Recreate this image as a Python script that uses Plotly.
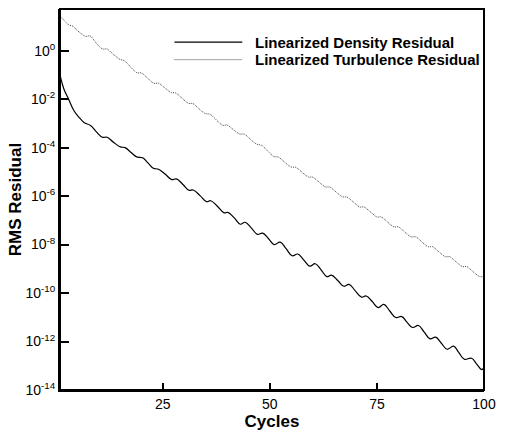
import plotly.graph_objects as go

# Linearized density residual: cycle positions and log10(RMS residual)
density_cycles = [1, 1.5, 2, 3, 4.3, 5.5, 6.6, 8.2, 9.5, 10.9, 12, 13.5, 15.1, 16.2, 17.6, 18.9,
                  20.3, 21.6, 22.8, 24, 25.6, 27.1, 28.2, 29.7, 31.1, 32.1, 33.7, 35.2, 36.2,
                  37.8, 39.3, 40.2, 41.7, 43.1, 44.2, 45.7, 47.1, 48.3, 49.7, 51.0, 52.4, 53.8,
                  55.2, 56.5, 57.9, 59.3, 60.6, 62.0, 63.3, 64.4, 65.9, 67.3, 68.5, 69.9, 71.4,
                  72.5, 73.9, 75.3, 76.6, 78.0, 79.4, 80.8, 82.0, 83.3, 84.7, 86.0, 87.4, 88.7,
                  90.0, 91.4, 92.9, 94.1, 95.4, 97.1, 98.3, 99.5, 100]
density_log10 = [-1.0, -1.35, -1.62, -2.0, -2.49, -2.76, -2.96, -3.10, -3.35, -3.57, -3.57, -3.78,
                 -3.97, -4.0, -4.2, -4.38, -4.42, -4.64, -4.85, -4.89, -5.1, -5.32, -5.29, -5.52,
                 -5.76, -5.75, -5.98, -6.23, -6.19, -6.43, -6.69, -6.67, -6.9, -7.16, -7.08,
                 -7.32, -7.58, -7.53, -7.76, -8.0, -7.9, -8.17, -8.46, -8.39, -8.63, -8.89,
                 -8.79, -9.05, -9.32, -9.26, -9.49, -9.72, -9.64, -9.9, -10.17, -10.12, -10.35,
                 -10.6, -10.47, -10.74, -11.01, -10.97, -11.2, -11.42, -11.34, -11.6, -11.89,
                 -11.82, -12.06, -12.32, -12.19, -12.45, -12.73, -12.69, -12.93, -13.16, -13.05]

# Linearized turbulence residual: cycles 1..100 and log10(RMS residual)
turb_cycles = list(range(1, 101))
turb_log10 = [1.44, 1.24, 1.07, 1.01, 0.84, 0.70, 0.59, 0.61, 0.42, 0.20,
              0.07, 0.07, -0.08, -0.23, -0.36, -0.41, -0.58, -0.77, -0.91, -0.92,
              -1.06, -1.22, -1.35, -1.34, -1.47, -1.61, -1.73, -1.74, -1.88, -2.04,
              -2.17, -2.18, -2.32, -2.48, -2.60, -2.62, -2.77, -2.94, -3.08, -3.07,
              -3.19, -3.33, -3.44, -3.44, -3.58, -3.74, -3.86, -3.90, -4.05, -4.23,
              -4.37, -4.39, -4.53, -4.68, -4.80, -4.81, -4.94, -5.09, -5.21, -5.22,
              -5.35, -5.50, -5.62, -5.63, -5.76, -5.91, -6.03, -6.04, -6.17, -6.32,
              -6.45, -6.45, -6.58, -6.73, -6.86, -6.86, -6.99, -7.15, -7.27, -7.27,
              -7.40, -7.56, -7.68, -7.68, -7.81, -7.97, -8.09, -8.09, -8.23, -8.38,
              -8.50, -8.50, -8.64, -8.79, -8.91, -8.91, -9.05, -9.20, -9.32, -9.32]

x_tick_vals = [25, 50, 75, 100]
x_tick_text = ["25", "50", "75", "100"]
y_tick_exps = [0, -2, -4, -6, -8, -10, -12, -14]
y_tick_text = ["10<sup>%d</sup>" % e for e in y_tick_exps]

series_names = ["Linearized Density Residual", "Linearized Turbulence Residual"]

FONT = "Liberation Sans, Arial, Helvetica, sans-serif"

fig = go.Figure()
fig.add_trace(go.Scatter(
    x=density_cycles, y=[10 ** v for v in density_log10], mode="lines",
    line=dict(color="black", width=1.2, shape="spline", smoothing=1.2),
    name=series_names[0], showlegend=False))
fig.add_trace(go.Scatter(
    x=turb_cycles, y=[10 ** v for v in turb_log10], mode="lines",
    line=dict(color="#444444", width=1, dash="1px,1px", shape="spline", smoothing=1.0),
    name=series_names[1], showlegend=False))

# legend drawn as sample lines + labels (paper coordinates)
legend_rows = [(0.913, "solid", "black", 1.2), (0.867, "1px,1px", "#444444", 1)]
for (yy, dash, col, w), name in zip(legend_rows, series_names):
    fig.add_shape(type="line", xref="paper", yref="paper", x0=0.27, x1=0.43, y0=yy, y1=yy,
                  line=dict(color=col, width=w, dash=dash))
    fig.add_annotation(xref="paper", yref="paper", x=0.456, y=yy, xanchor="left",
                       yanchor="middle", text="<b>%s</b>" % name, showarrow=False,
                       font=dict(family=FONT, size=15, color="black"))

# plot frame (top / right edges)
fig.add_shape(type="rect", xref="paper", yref="paper", x0=0, x1=1, y0=0, y1=1,
              line=dict(color="black", width=2), layer="above")

fig.update_layout(
    width=505, height=433,
    margin=dict(l=60, r=16, t=9, b=34),
    paper_bgcolor="white", plot_bgcolor="white",
    font=dict(family=FONT, size=14, color="black"),
    xaxis=dict(
        range=[1, 100], showgrid=False, zeroline=False,
        showline=True, linecolor="black", linewidth=2,
        ticks="inside", ticklen=7, tickwidth=2, tickcolor="black",
        tickvals=x_tick_vals, ticktext=x_tick_text,
        tickfont=dict(size=14),
        title=dict(text="<b>Cycles</b>", font=dict(family=FONT, size=17), standoff=0),
    ),
    yaxis=dict(
        type="log", range=[-14, 1.72], gridcolor="white",
        showline=True, linecolor="black", linewidth=2,
        ticks="inside", ticklen=9, tickwidth=2, tickcolor="black",
        tickvals=[10 ** e for e in y_tick_exps], ticktext=y_tick_text,
        title=dict(text="<b>RMS Residual</b>", font=dict(family=FONT, size=17), standoff=0),
    ),
)

fig.write_html("out.html")
